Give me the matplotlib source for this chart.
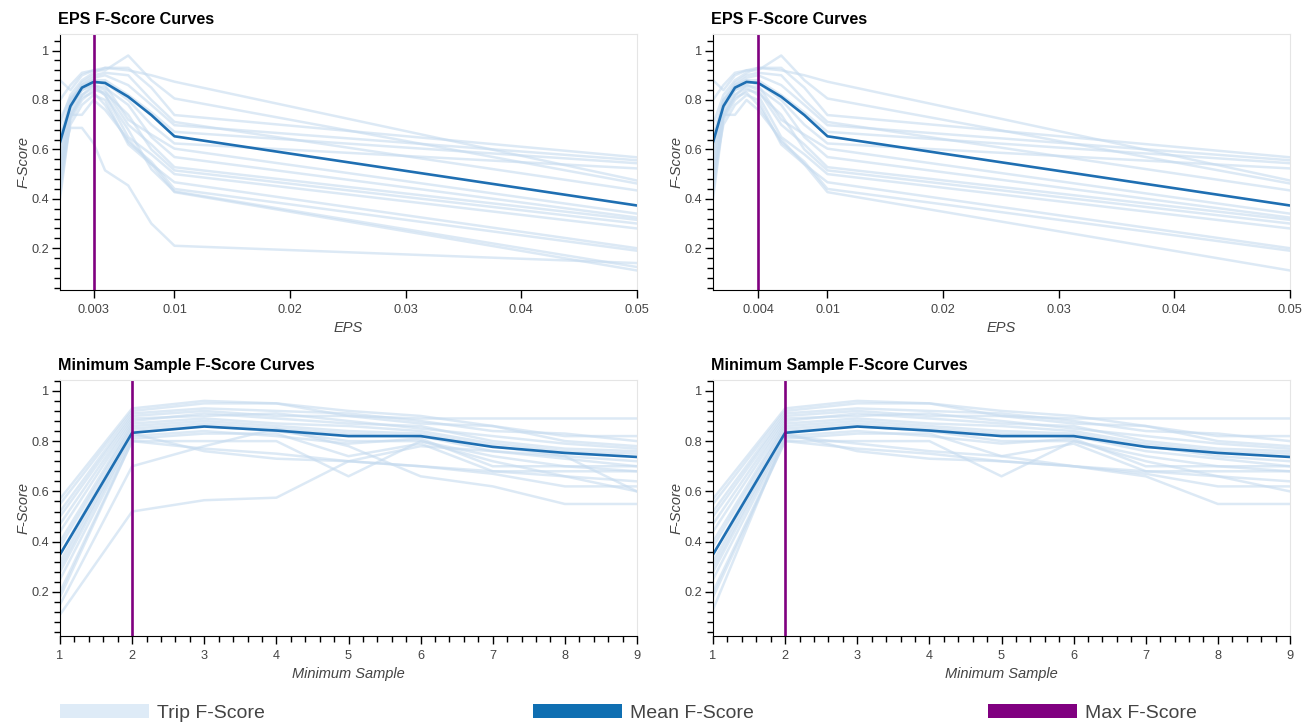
import matplotlib
matplotlib.use("Agg")
import matplotlib.pyplot as plt
from matplotlib.patches import Patch
from matplotlib.ticker import FixedLocator, MultipleLocator, FuncFormatter

plt.rcParams['font.family'] = ['Liberation Sans', 'DejaVu Sans']

# ---- EPS sweep ----
eps = [0.0001, 0.001, 0.002, 0.003, 0.004, 0.006, 0.008, 0.01, 0.05]
eps_mean = [0.629, 0.775, 0.85, 0.873, 0.869, 0.813, 0.739, 0.653, 0.373]
eps_trips = [
    [0.88, 0.84, 0.90, 0.92, 0.93, 0.92, 0.90, 0.874, 0.474],
    [0.80, 0.86, 0.91, 0.92, 0.92, 0.98, 0.88, 0.806, 0.462],
    [0.70, 0.82, 0.88, 0.91, 0.93, 0.93, 0.85, 0.739, 0.568],
    [0.62, 0.80, 0.87, 0.90, 0.91, 0.90, 0.80, 0.711, 0.434],
    [0.55, 0.78, 0.86, 0.89, 0.90, 0.86, 0.78, 0.698, 0.556],
    [0.65, 0.80, 0.85, 0.88, 0.88, 0.82, 0.75, 0.671, 0.544],
    [0.50, 0.76, 0.84, 0.87, 0.87, 0.80, 0.70, 0.624, 0.523],
    [0.60, 0.79, 0.86, 0.88, 0.86, 0.72, 0.66, 0.603, 0.340],
    [0.45, 0.74, 0.82, 0.86, 0.85, 0.78, 0.65, 0.569, 0.324],
    [0.58, 0.77, 0.84, 0.86, 0.84, 0.70, 0.62, 0.528, 0.315],
    [0.40, 0.72, 0.80, 0.84, 0.83, 0.74, 0.60, 0.515, 0.300],
    [0.52, 0.74, 0.82, 0.85, 0.82, 0.65, 0.58, 0.500, 0.280],
    [0.48, 0.70, 0.78, 0.82, 0.80, 0.62, 0.54, 0.467, 0.200],
    [0.42, 0.73, 0.81, 0.83, 0.78, 0.63, 0.55, 0.440, 0.190],
    [0.66, 0.74, 0.74, 0.80, 0.76, 0.64, 0.54, 0.427, 0.110],
    [0.72, 0.81, 0.85, 0.86, 0.82, 0.68, 0.52, 0.430, 0.124],
    [0.55, 0.687, 0.687, 0.625, 0.515, 0.454, 0.30, 0.210, 0.140],
]
eps_trips_right = eps_trips[:15]
eps_best_left = 0.003
eps_best_right = 0.004

# ---- Minimum sample sweep ----
min_sample = [1, 2, 3, 4, 5, 6, 7, 8, 9]
ms_mean = [0.349, 0.833, 0.858, 0.842, 0.82, 0.82, 0.777, 0.753, 0.737]
ms_trips = [
    [0.57, 0.93, 0.96, 0.95, 0.90, 0.89, 0.89, 0.89, 0.89],
    [0.55, 0.92, 0.95, 0.95, 0.92, 0.90, 0.86, 0.82, 0.82],
    [0.52, 0.91, 0.93, 0.92, 0.91, 0.88, 0.84, 0.83, 0.80],
    [0.50, 0.90, 0.92, 0.90, 0.90, 0.87, 0.86, 0.80, 0.78],
    [0.47, 0.89, 0.90, 0.91, 0.88, 0.85, 0.82, 0.79, 0.77],
    [0.44, 0.88, 0.91, 0.89, 0.87, 0.86, 0.80, 0.77, 0.76],
    [0.40, 0.87, 0.89, 0.87, 0.86, 0.84, 0.79, 0.76, 0.75],
    [0.38, 0.86, 0.88, 0.86, 0.84, 0.83, 0.78, 0.74, 0.72],
    [0.35, 0.85, 0.87, 0.85, 0.83, 0.82, 0.76, 0.73, 0.70],
    [0.32, 0.84, 0.86, 0.84, 0.80, 0.80, 0.74, 0.70, 0.68],
    [0.28, 0.82, 0.84, 0.82, 0.79, 0.81, 0.70, 0.70, 0.70],
    [0.25, 0.81, 0.83, 0.83, 0.74, 0.79, 0.68, 0.68, 0.68],
    [0.20, 0.80, 0.80, 0.80, 0.66, 0.80, 0.72, 0.66, 0.64],
    [0.18, 0.80, 0.77, 0.75, 0.72, 0.70, 0.67, 0.62, 0.62],
    [0.30, 0.83, 0.76, 0.73, 0.72, 0.70, 0.68, 0.66, 0.60],
    [0.15, 0.70, 0.78, 0.85, 0.78, 0.66, 0.62, 0.55, 0.55],
    [0.11, 0.52, 0.565, 0.575, 0.72, 0.78, 0.76, 0.74, 0.60],
]
ms_trips_right = ms_trips[:15] + [
    [0.13, 0.82, 0.79, 0.76, 0.74, 0.70, 0.66, 0.55, 0.55],
]
ms_best = 2

TRIP_C = '#c6dbef'
MEAN_C = '#1f6fb2'
MAX_C = '#800080'
TXT_C = '#444444'


def draw_panel(ax, x, trips, mean, best, title, xlabel, xticks, ylim, minor_x=None):
    for t in trips:
        ax.plot(x, t, color=TRIP_C, alpha=0.6, lw=1.8, solid_joinstyle='round')
    ax.plot(x, mean, color=MEAN_C, lw=1.9, solid_joinstyle='round')
    ax.axvline(best, color=MAX_C, lw=1.9)

    ax.set_xlim(x[0], x[-1])
    ax.set_ylim(*ylim)
    ax.xaxis.set_major_locator(FixedLocator(xticks))
    ax.xaxis.set_major_formatter(FuncFormatter(lambda v, p: '%g' % v))
    if minor_x:
        ax.xaxis.set_minor_locator(MultipleLocator(minor_x))
    ax.yaxis.set_major_locator(FixedLocator([0.2, 0.4, 0.6, 0.8, 1.0]))
    ax.yaxis.set_minor_locator(MultipleLocator(0.04))
    ax.yaxis.set_major_formatter(FuncFormatter(lambda v, p: '%g' % round(v, 2)))

    for s in ['top', 'right']:
        ax.spines[s].set_color('#e5e5e5')
    for s in ['left', 'bottom']:
        ax.spines[s].set_color('black')
    ax.tick_params(which='major', direction='out', length=6, width=1,
                   labelcolor=TXT_C, labelsize=9.2)
    ax.tick_params(axis='y', which='major', pad=1.5)
    ax.tick_params(axis='x', which='major', pad=4)
    ax.tick_params(which='minor', direction='out', length=4, width=1)

    ax.set_title(title, loc='left', fontsize=11.6, fontweight='bold', pad=7, x=-0.003)
    ax.set_xlabel(xlabel, fontsize=10.5, style='italic', color=TXT_C, labelpad=4)
    ax.set_ylabel('F-Score', fontsize=10.5, style='italic', color=TXT_C, labelpad=1)


fig = plt.figure(figsize=(13.15, 7.26), dpi=100)
W, H = 1315.0, 726.0


def add_axes(l, t, r, b):
    return fig.add_axes([l / W, 1 - b / H, (r - l) / W, (b - t) / H])


ax1 = add_axes(60, 34, 637, 290)
ax2 = add_axes(713, 34, 1290, 290)
ax3 = add_axes(60, 380, 637, 636)
ax4 = add_axes(713, 380, 1290, 636)

eps_ticks = [0.01, 0.02, 0.03, 0.04, 0.05]
draw_panel(ax1, eps, eps_trips, eps_mean, eps_best_left, 'EPS F-Score Curves', 'EPS',
           [eps_best_left] + eps_ticks, (0.031, 1.067))
draw_panel(ax2, eps, eps_trips_right, eps_mean, eps_best_right, 'EPS F-Score Curves', 'EPS',
           [eps_best_right] + eps_ticks, (0.031, 1.067))
draw_panel(ax3, min_sample, ms_trips, ms_mean, ms_best, 'Minimum Sample F-Score Curves',
           'Minimum Sample', min_sample, (0.025, 1.043), minor_x=0.2)
draw_panel(ax4, min_sample, ms_trips_right, ms_mean, ms_best, 'Minimum Sample F-Score Curves',
           'Minimum Sample', min_sample, (0.025, 1.043), minor_x=0.2)

# legend along the bottom
legend_items = [('Trip F-Score', '#deebf7', 60), ('Mean F-Score', '#0f6fb2', 533),
                ('Max F-Score', MAX_C, 988)]
for label, color, xpos in legend_items:
    fig.legend(handles=[Patch(facecolor=color, edgecolor='none')], labels=[label],
               loc='center left', bbox_to_anchor=(xpos / W, 1 - 713 / H),
               frameon=False, handlelength=4.6, handleheight=0.72, handletextpad=0.4,
               borderpad=0, borderaxespad=0, fontsize=14, labelcolor=TXT_C)

fig.savefig('out.png', dpi=100)
